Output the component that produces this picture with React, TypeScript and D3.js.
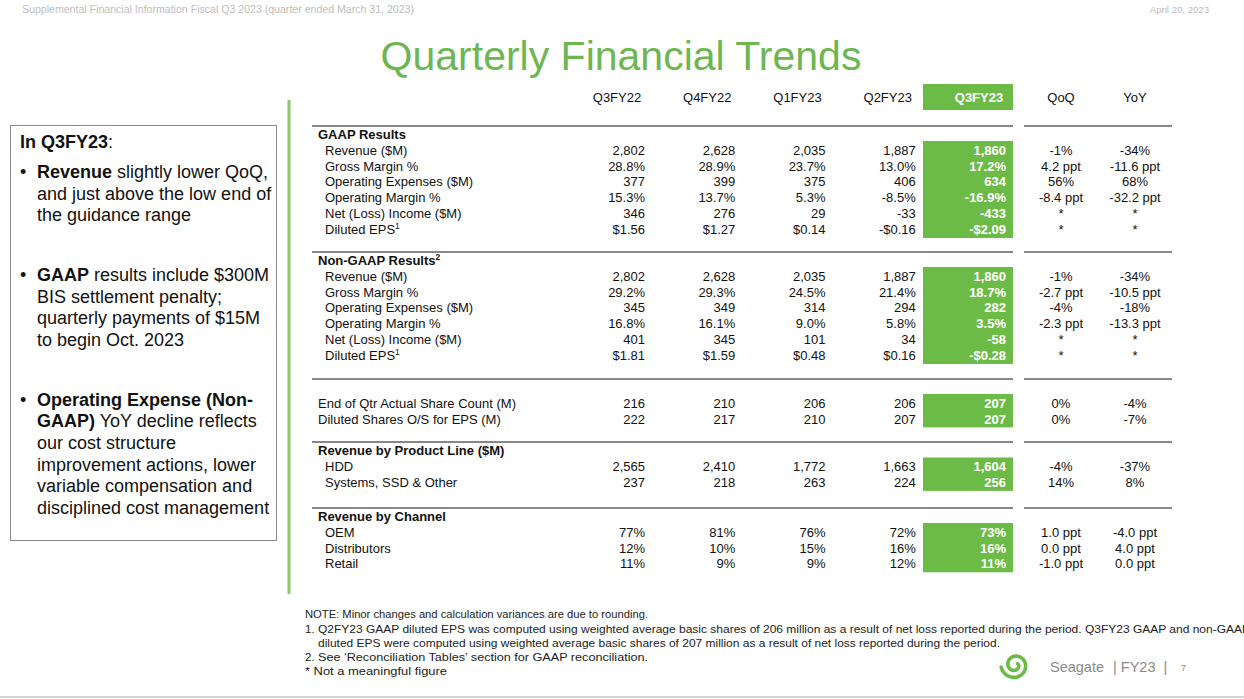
import React from "react";
import * as d3 from "d3";

const quarters = ["Q3FY22", "Q4FY22", "Q1FY23", "Q2FY23", "Q3FY23"];
const changeCols = ["QoQ", "YoY"];

const gaapLabels = ["Revenue ($M)", "Gross Margin %", "Operating Expenses ($M)", "Operating Margin %", "Net (Loss) Income ($M)", "Diluted EPS"];
const gaapValues = [
  ["2,802", "2,628", "2,035", "1,887", "1,860"],
  ["28.8%", "28.9%", "23.7%", "13.0%", "17.2%"],
  ["377", "399", "375", "406", "634"],
  ["15.3%", "13.7%", "5.3%", "-8.5%", "-16.9%"],
  ["346", "276", "29", "-33", "-433"],
  ["$1.56", "$1.27", "$0.14", "-$0.16", "-$2.09"],
];
const gaapChanges = [["-1%", "-34%"], ["4.2 ppt", "-11.6 ppt"], ["56%", "68%"], ["-8.4 ppt", "-32.2 ppt"], ["*", "*"], ["*", "*"]];

const nonGaapLabels = gaapLabels;
const nonGaapValues = [
  ["2,802", "2,628", "2,035", "1,887", "1,860"],
  ["29.2%", "29.3%", "24.5%", "21.4%", "18.7%"],
  ["345", "349", "314", "294", "282"],
  ["16.8%", "16.1%", "9.0%", "5.8%", "3.5%"],
  ["401", "345", "101", "34", "-58"],
  ["$1.81", "$1.59", "$0.48", "$0.16", "-$0.28"],
];
const nonGaapChanges = [["-1%", "-34%"], ["-2.7 ppt", "-10.5 ppt"], ["-4%", "-18%"], ["-2.3 ppt", "-13.3 ppt"], ["*", "*"], ["*", "*"]];

const shareLabels = ["End of Qtr Actual Share Count (M)", "Diluted Shares O/S for EPS (M)"];
const shareValues = [
  ["216", "210", "206", "206", "207"],
  ["222", "217", "210", "207", "207"],
];
const shareChanges = [["0%", "-4%"], ["0%", "-7%"]];

const productLabels = ["HDD", "Systems, SSD & Other"];
const productValues = [
  ["2,565", "2,410", "1,772", "1,663", "1,604"],
  ["237", "218", "263", "224", "256"],
];
const productChanges = [["-4%", "-37%"], ["14%", "8%"]];

const channelLabels = ["OEM", "Distributors", "Retail"];
const channelValues = [
  ["77%", "81%", "76%", "72%", "73%"],
  ["12%", "10%", "15%", "16%", "16%"],
  ["11%", "9%", "9%", "12%", "11%"],
];
const channelChanges = [["1.0 ppt", "-4.0 ppt"], ["0.0 ppt", "4.0 ppt"], ["-1.0 ppt", "0.0 ppt"]];

const GREEN = "#6cbb47";
const TITLE_GREEN = "#6db652";
const FONT = "'Liberation Sans', Arial, Helvetica, sans-serif";

type Section = {
  heading: string | null;
  sup?: string;
  headY: number;
  firstY: number;
  labels: string[];
  values: string[][];
  changes: string[][];
  indent: boolean;
  lineY: number | null;
};

const sections: Section[] = [
  { heading: "GAAP Results", headY: 134, firstY: 150, labels: gaapLabels, values: gaapValues, changes: gaapChanges, indent: true, lineY: 126 },
  { heading: "Non-GAAP Results", sup: "2", headY: 260, firstY: 276, labels: nonGaapLabels, values: nonGaapValues, changes: nonGaapChanges, indent: true, lineY: 252 },
  { heading: null, headY: 0, firstY: 403, labels: shareLabels, values: shareValues, changes: shareChanges, indent: false, lineY: 379 },
  { heading: "Revenue by Product Line ($M)", headY: 450, firstY: 466.5, labels: productLabels, values: productValues, changes: productChanges, indent: true, lineY: 442 },
  { heading: "Revenue by Channel", headY: 516, firstY: 532, labels: channelLabels, values: channelValues, changes: channelChanges, indent: true, lineY: 508 },
];

const xQ = d3.scalePoint<string>().domain(quarters).range([645, 1006]);
const xC = d3.scalePoint<string>().domain(changeCols).range([1061, 1135]);
const rowPitch = 15.9;

function spiralPath(cx: number, cy: number): string {
  const pts: [number, number][] = [];
  const turns = 1.55;
  const n = 80;
  for (let i = 0; i <= n; i++) {
    const t = i / n;
    const ang = -Math.PI * 0.15 + t * turns * 2 * Math.PI;
    const r = 3 + t * 11;
    pts.push([cx + r * Math.cos(ang), cy + r * Math.sin(ang)]);
  }
  return d3.line().curve(d3.curveBasis)(pts) || "";
}

export default function App() {
  const fs = 13;
  const dy = 4.6;
  return (
    <div style={{ position: "absolute", left: 0, top: 0 }}>
      <svg width={1244} height={699} style={{ display: "block", fontFamily: FONT }}>
        <rect width={1244} height={699} fill="#ffffff" />
        {/* top header */}
        <text x={22} y={13} fontSize={10} fill="#bdbdbd" textLength={392} lengthAdjust="spacingAndGlyphs">Supplemental Financial Information Fiscal Q3 2023 (quarter ended March 31, 2023)</text>
        <text x={1209} y={13} fontSize={9.6} fill="#bdbdbd" textAnchor="end">April 20, 2023</text>
        <text x={621} y={70} fontSize={41} fill={TITLE_GREEN} textAnchor="middle">Quarterly Financial Trends</text>

        {/* column headers */}
        <rect x={923} y={84} width={90} height={26} fill={GREEN} />
        {quarters.map((q, i) => (
          <text key={q} x={(xQ(q) as number) - 28 + (i === 4 ? 1 : 0)} y={97 + dy} fontSize={fs} textAnchor="middle"
            fill={i === 4 ? "#ffffff" : "#111"} fontWeight={i === 4 ? "bold" : "normal"}>{q}</text>
        ))}
        {changeCols.map((c) => (
          <text key={c} x={xC(c) as number} y={97 + dy} fontSize={fs} textAnchor="middle" fill="#111">{c}</text>
        ))}

        {/* left box */}
        <rect x={10.5} y={125.5} width={266} height={415} fill="none" stroke="#8a8a8a" strokeWidth={1} />
        <text x={20} y={148} fontSize={18} fill="#111"><tspan fontWeight="bold">In Q3FY23</tspan>:</text>
        {[
          { y: 178, parts: [[true, "Revenue"], [false, " slightly lower QoQ,"]] },
          { y: 199.7, parts: [[false, "and just above the low end of"]] },
          { y: 221.4, parts: [[false, "the guidance range"]] },
          { y: 281, parts: [[true, "GAAP"], [false, " results include $300M"]] },
          { y: 302.7, parts: [[false, "BIS settlement penalty;"]] },
          { y: 324.4, parts: [[false, "quarterly payments of $15M"]] },
          { y: 346.1, parts: [[false, "to begin Oct. 2023"]] },
          { y: 405.5, parts: [[true, "Operating Expense (Non-"]] },
          { y: 427.2, parts: [[true, "GAAP)"], [false, " YoY decline reflects"]] },
          { y: 448.9, parts: [[false, "our cost structure"]] },
          { y: 470.6, parts: [[false, "improvement actions, lower"]] },
          { y: 492.3, parts: [[false, "variable compensation and"]] },
          { y: 514, parts: [[false, "disciplined cost management"]] },
        ].map((l, i) => (
          <text key={i} x={37} y={l.y} fontSize={18} fill="#111" style={{ whiteSpace: "pre" }}>
            {l.parts.map((p, j) => (
              <tspan key={j} fontWeight={p[0] ? "bold" : "normal"}>{p[1] as string}</tspan>
            ))}
          </text>
        ))}
        {[178, 281, 405.5].map((y) => (
          <text key={y} x={20} y={y} fontSize={18} fill="#111">•</text>
        ))}

        {/* green vertical rule */}
        <line x1={289} x2={289} y1={100} y2={594} stroke="#8cc56d" strokeWidth={3} />

        {/* table sections */}
        {sections.map((s, si) => {
          const n = s.labels.length;
          const yRow = d3.scaleLinear().domain([0, 1]).range([s.firstY, s.firstY + rowPitch]);
          const top = yRow(0) - 9;
          const bottom = yRow(n - 1) + 8.5;
          return (
            <g key={si}>
              {s.lineY !== null && (
                <g>
                  <line x1={312} x2={1013} y1={s.lineY} y2={s.lineY} stroke="#111" strokeWidth={1.2} />
                  <line x1={1024} x2={1172} y1={s.lineY} y2={s.lineY} stroke="#111" strokeWidth={1.2} />
                </g>
              )}
              {s.heading && (
                <text x={318} y={s.headY + dy} fontSize={fs} fontWeight="bold" fill="#111">
                  {s.heading}
                  {s.sup && <tspan fontSize={8.5} dy={-5}>{s.sup}</tspan>}
                </text>
              )}
              <rect x={923} y={top} width={90} height={bottom - top} fill={GREEN} />
              {s.labels.map((lab, r) => {
                const y = yRow(r) + dy;
                return (
                  <g key={r}>
                    <text x={s.indent ? 325 : 318} y={y} fontSize={fs} fill="#111">
                      {lab}
                      {lab === "Diluted EPS" && <tspan fontSize={8.5} dy={-5}>1</tspan>}
                    </text>
                    {s.values[r].map((v, c) => (
                      <text key={c} x={xQ(quarters[c]) as number} y={y} fontSize={fs} textAnchor="end"
                        fill={c === 4 ? "#ffffff" : "#111"} fontWeight={c === 4 ? "bold" : "normal"}>{v}</text>
                    ))}
                    {s.changes[r].map((v, c) => (
                      <text key={"c" + c} x={xC(changeCols[c]) as number} y={y} fontSize={fs} textAnchor="middle" fill="#111">{v}</text>
                    ))}
                  </g>
                );
              })}
            </g>
          );
        })}

        {/* footnotes */}
        <g fontSize={11.5} fill="#222">
          <text x={305} y={618} textLength={343} lengthAdjust="spacingAndGlyphs">NOTE: Minor changes and calculation variances are due to rounding.</text>
          <text x={305} y={633}>1.</text>
          <text x={318} y={633} textLength={932} lengthAdjust="spacingAndGlyphs">Q2FY23 GAAP diluted EPS was computed using weighted average basic shares of 206 million as a result of net loss reported during the period. Q3FY23 GAAP and non-GAAP</text>
          <text x={318} y={647} textLength={682} lengthAdjust="spacingAndGlyphs">diluted EPS were computed using weighted average basic shares of 207 million as a result of net loss reported during the period.</text>
          <text x={305} y={661}>2.</text>
          <text x={318} y={661} textLength={330} lengthAdjust="spacingAndGlyphs">See  ‘Reconciliation Tables’ section for GAAP reconciliation.</text>
          <text x={305} y={675} textLength={142} lengthAdjust="spacingAndGlyphs">* Not a meaningful figure</text>
        </g>

        {/* logo + footer */}
        <path d={spiralPath(1015, 665)} fill="none" stroke={GREEN} strokeWidth={3.6} strokeLinecap="round" />
        <text x={1050} y={672} fontSize={14.5} fill="#8a8a8a">Seagate</text>
        <text x={1113} y={672} fontSize={14.5} fill="#8a8a8a" style={{ whiteSpace: "pre" }}>| FY23  |</text>
        <text x={1181} y={671} fontSize={9} fill="#8a8a8a">7</text>
        <line x1={0} x2={1244} y1={697} y2={697} stroke="#c8c8c8" strokeWidth={1.5} />
      </svg>
    </div>
  );
}
